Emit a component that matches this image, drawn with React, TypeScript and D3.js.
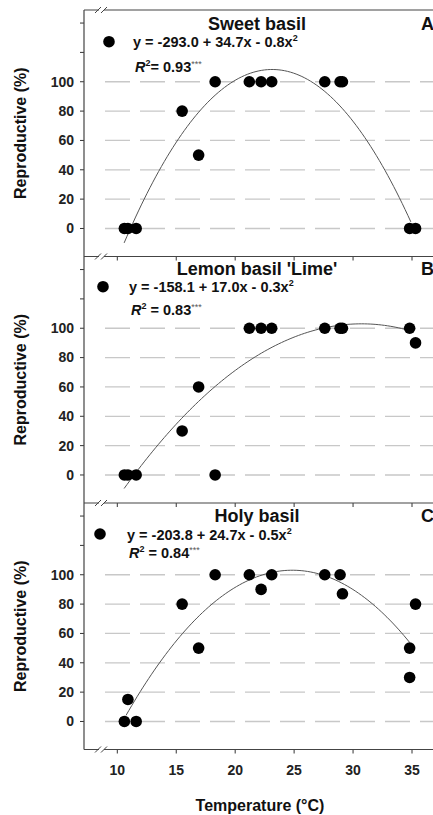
import React from "react";
import * as d3 from "d3";

// ---- data ----
const temperatures = [10.6, 10.9, 11.6, 15.5, 16.9, 18.3, 21.2, 22.2, 23.1, 27.6, 28.9, 29.1, 34.8, 35.3];
const sweetValues = [0, 0, 0, 80, 50, 100, 100, 100, 100, 100, 100, 100, 0, 0];
const lemonValues = [0, 0, 0, 30, 60, 0, 100, 100, 100, 100, 100, 100, 100, 90];
const holyTemps = [10.6, 10.9, 11.6, 15.5, 16.9, 18.3, 21.2, 22.2, 23.1, 27.6, 28.9, 29.1, 34.8, 34.8, 35.3];
const holyValues = [0, 15, 0, 80, 50, 100, 100, 90, 100, 100, 100, 87, 50, 30, 80];

const panelTitles = ["Sweet basil", "Lemon basil 'Lime'", "Holy basil"];
const panelLetters = ["A", "B", "C"];
const equations = ["y = -293.0 + 34.7x - 0.8x", "y = -158.1 + 17.0x - 0.3x", "y = -203.8 + 24.7x - 0.5x"];
const r2Values = ["= 0.93", "= 0.83", "= 0.84"];
// fitted curve coefficients [c0, c1, c2] and range
const curveCoefs = [
  [-293.0, 34.7, -0.75],
  [-158.1, 17.0, -0.2767],
  [-203.8, 24.7, -0.497],
];
const curveRanges = [
  [10.58, 34.9],
  [10.58, 34.85],
  [10.74, 34.8],
];
const xTicks = [10, 15, 20, 25, 30, 35];
const yTicks = [0, 20, 40, 60, 80, 100, 120, 140];
const yLabelTicks = [0, 20, 40, 60, 80, 100];
const gridValues = [0, 20, 40, 60, 80, 100];

const panelsX = [temperatures, temperatures, holyTemps];
const panelsY = [sweetValues, lemonValues, holyValues];

// ---- layout ----
const W = 433;
const H = 815;
const LEFT = 84;
const RIGHT = 445;
const PANEL_TOPS = [10, 256.5, 503];
const PANEL_H = 246.5;
const FONT = "Arial, 'Liberation Sans', sans-serif";
const EQ_X = [133, 129, 127];
const DOT_X = [109, 103, 100];
const DOT_DY = [31.7, 30.2, 31];
const TITLE_DY = [20, 18.5, 19];
const EQ_DY = [36.7, 35.5, 37];
const R2_DY = [61.7, 58.5, 55.3];

const x = d3.scaleLinear().domain([10, 35]).range([117.3, 412]);

function Panel({ i }: { i: number }) {
  const top = PANEL_TOPS[i];
  const bottom = top + PANEL_H;
  const y = d3.scaleLinear().domain([-19.1, 148.9]).range([bottom, top]);
  const [c0, c1, c2] = curveCoefs[i];
  const [t0, t1] = curveRanges[i];
  const pts: [number, number][] = d3.range(0, 101).map((k) => {
    const t = t0 + ((t1 - t0) * k) / 100;
    return [t, c0 + c1 * t + c2 * t * t];
  });
  const line = d3
    .line<[number, number]>()
    .x((d) => x(d[0]))
    .y((d) => y(d[1]));
  const xs = panelsX[i];
  const ys = panelsY[i];
  const centerY = (top + bottom) / 2;
  return (
    <g>
      {gridValues.map((v) => (
        <line
          key={"g" + v}
          x1={105}
          x2={RIGHT}
          y1={y(v)}
          y2={y(v)}
          stroke="#c8c8c8"
          strokeWidth={1.3}
          strokeDasharray="25,10"
        />
      ))}
      {yTicks.map((v) => (
        <line key={"t" + v} x1={LEFT - 4} x2={LEFT} y1={y(v)} y2={y(v)} stroke="#333" strokeWidth={1} />
      ))}
      {yLabelTicks.map((v) => (
        <text
          key={"l" + v}
          x={74}
          y={y(v)}
          dy="0.35em"
          textAnchor="end"
          fontFamily={FONT}
          fontWeight="bold"
          fontSize={14}
          fill="#222"
        >
          {v}
        </text>
      ))}
      {xTicks.map((v) => (
        <line key={"x" + v} x1={x(v)} x2={x(v)} y1={bottom} y2={bottom + 4} stroke="#333" strokeWidth={1} />
      ))}
      <path d={line(pts) || ""} fill="none" stroke="#555" strokeWidth={1} />
      {xs.map((t, k) => (
        <circle key={"p" + k} cx={x(t)} cy={y(ys[k])} r={5.8} fill="#000" />
      ))}
      <text
        x={257}
        y={top + TITLE_DY[i]}
        textAnchor="middle"
        fontFamily={FONT}
        fontWeight="bold"
        fontSize={18}
        fill="#111"
      >
        {panelTitles[i]}
      </text>
      <text x={421} y={top + TITLE_DY[i]} fontFamily={FONT} fontWeight="bold" fontSize={18} fill="#111">
        {panelLetters[i]}
      </text>
      <circle cx={DOT_X[i]} cy={top + DOT_DY[i]} r={5.8} fill="#000" />
      <text x={EQ_X[i]} y={top + EQ_DY[i]} fontFamily={FONT} fontWeight="bold" fontSize={14.5} fill="#111">
        {equations[i]}
        <tspan fontSize={9} dy={-6}>
          2
        </tspan>
      </text>
      <text x={EQ_X[i] + 2} y={top + R2_DY[i]} fontFamily={FONT} fontWeight="bold" fontSize={14.5} fill="#111">
        <tspan fontStyle="italic">R</tspan>
        <tspan fontSize={9} dy={-6}>
          2
        </tspan>
        <tspan dy={6}>{i === 0 ? r2Values[i] : " " + r2Values[i]}</tspan>
        <tspan fontSize={9} dy={-5} fontWeight="normal" fill="#555">
          ***
        </tspan>
      </text>
      <text
        transform={`translate(26,${centerY}) rotate(-90)`}
        textAnchor="middle"
        fontFamily={FONT}
        fontWeight="bold"
        fontSize={16}
        fill="#111"
      >
        Reproductive (%)
      </text>
    </g>
  );
}

function BreakMark({ yy }: { yy: number }) {
  return (
    <g>
      <rect x={99} y={yy - 2} width={5} height={4} fill="#fff" />
      <line x1={95} y1={yy + 3} x2={101} y2={yy - 3} stroke="#444" strokeWidth={1} />
      <line x1={101} y1={yy + 3} x2={107} y2={yy - 3} stroke="#444" strokeWidth={1} />
    </g>
  );
}

export default function App() {
  const bottomAll = PANEL_TOPS[2] + PANEL_H;
  return (
    <svg width={W} height={H} style={{ position: "absolute", left: 0, top: 0, background: "#fff" }}>
      <rect x={0} y={0} width={W} height={H} fill="#fff" />
      {[0, 1, 2].map((i) => (
        <Panel key={i} i={i} />
      ))}
      <line x1={LEFT} x2={LEFT} y1={PANEL_TOPS[0]} y2={bottomAll} stroke="#444" strokeWidth={1.2} />
      {[...PANEL_TOPS, bottomAll].map((yy, k) => (
        <line key={"h" + k} x1={LEFT} x2={RIGHT} y1={yy} y2={yy} stroke="#444" strokeWidth={1.2} />
      ))}
      {[...PANEL_TOPS, bottomAll].map((yy, k) => (
        <BreakMark key={"b" + k} yy={yy} />
      ))}
      {xTicks.map((v) => (
        <text
          key={"xl" + v}
          x={x(v)}
          y={775}
          textAnchor="middle"
          fontFamily={FONT}
          fontWeight="bold"
          fontSize={14}
          fill="#222"
        >
          {v}
        </text>
      ))}
      <text x={260} y={811} textAnchor="middle" fontFamily={FONT} fontWeight="bold" fontSize={16} fill="#111">
        Temperature (°C)
      </text>
    </svg>
  );
}
